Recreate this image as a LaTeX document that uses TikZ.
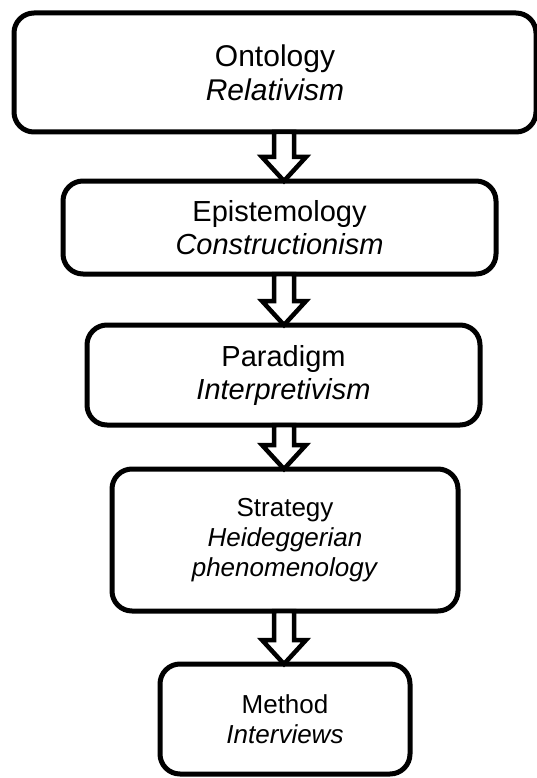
\documentclass[tikz,border=0pt]{standalone}
\usepackage{fontspec}
\setmainfont{Liberation Sans}
\usetikzlibrary{positioning, calc}

% hollow block arrow from one level down to the next, on the spine
\newcommand{\hollowdown}[2]{%
  \draw[flow] let \p1=(#1.south), \p2=(#2.north), \p3=(spine) in
    ({\x3-10pt},\y1) -- ({\x3-10pt},{\y2+24pt}) -- ({\x3-22pt},{\y2+24pt})
    -- (\x3,\y2) -- ({\x3+22pt},{\y2+24pt}) -- ({\x3+10pt},{\y2+24pt})
    -- ({\x3+10pt},\y1) -- cycle;}

\begin{document}
\begin{tikzpicture}[x=1pt, y=-1pt,
    level/.style={rectangle, rounded corners=20pt, draw=black, line width=5pt,
                  fill=white, align=center, inner sep=2pt, outer sep=0pt},
    big/.style={font=\fontsize{29}{33}\selectfont},
    small/.style={font=\fontsize{26}{30}\selectfont},
    flow/.style={draw=black, fill=white, line width=4.5pt, line join=miter},
]
\useasboundingbox (0,0) rectangle (537,778);
\coordinate (spine) at (284,0);

% Levels
\node[level, font=\fontsize{30}{34}\selectfont,
      minimum width=522pt, minimum height=119pt] (ontology) at (275,72.5)
      {Ontology\\\textit{Relativism}};
\node[level, big, minimum width=433pt, minimum height=93pt,
      below=49pt of ontology, xshift=4.5pt] (epistemology)
      {Epistemology\\\textit{Constructionism}};
\node[level, big, minimum width=393pt, minimum height=100pt,
      below=51pt of epistemology, xshift=4pt] (paradigm)
      {Paradigm\\\textit{Interpretivism}};
\node[level, small, minimum width=346pt, minimum height=142pt,
      below=44pt of paradigm, xshift=1.5pt] (strategy)
      {Strategy\\\textit{Heideggerian}\\\textit{phenomenology}};
\node[level, small, minimum width=250pt, minimum height=110pt,
      below=53pt of strategy] (method)
      {Method\\\textit{Interviews}};

% Arrows
\hollowdown{ontology}{epistemology}
\hollowdown{epistemology}{paradigm}
\hollowdown{paradigm}{strategy}
\hollowdown{strategy}{method}

\end{tikzpicture}
\end{document}
